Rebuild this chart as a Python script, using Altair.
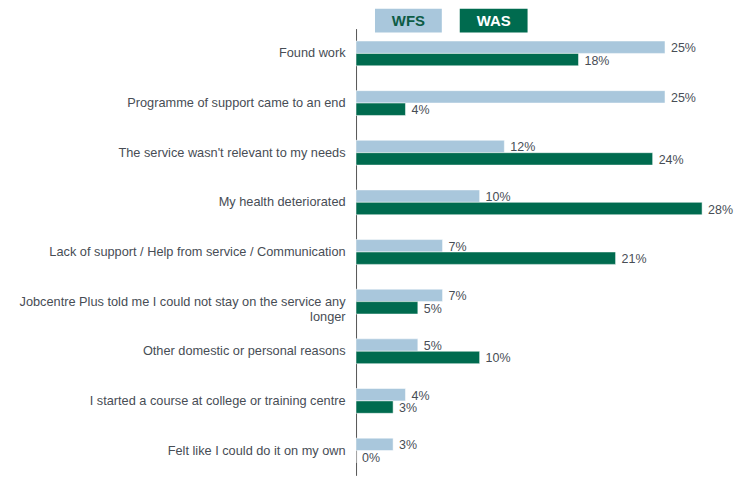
import altair as alt
import pandas as pd

CATEGORIES = [
    "Found work",
    "Programme of support came to an end",
    "The service wasn't relevant to my needs",
    "My health deteriorated",
    "Lack of support / Help from service / Communication",
    "Jobcentre Plus told me I could not stay on the service any longer",
    "Other domestic or personal reasons",
    "I started a course at college or training centre",
    "Felt like I could do it on my own",
]
SERIES = ["WFS", "WAS"]
WFS = [25, 25, 12, 10, 7, 7, 5, 4, 3]
WAS = [18, 4, 24, 28, 21, 5, 10, 3, 0]
COLORS = ["#a9c7dc", "#006b4f"]

rows = []
for i, c in enumerate(CATEGORIES):
    rows.append({"category": c, "series": "WFS", "value": WFS[i]})
    rows.append({"category": c, "series": "WAS", "value": WAS[i]})
df = pd.DataFrame(rows)
df["label"] = df["value"].astype(str) + "%"

FONT = "Liberation Sans"
GREY = "#474d55"

y_enc = alt.Y(
    "category:N",
    sort=CATEGORIES,
    scale=alt.Scale(paddingInner=0.5, paddingOuter=0.25),
    axis=alt.Axis(
        title=None,
        ticks=False,
        domain=True,
        domainColor="#555555",
        domainWidth=1,
        labelFont=FONT,
        labelFontSize=12.8,
        labelColor=GREY,
        labelPadding=11,
        labelLimit=400,
        labelLineHeight=15,
        labelExpr="indexof(datum.label, 'Jobcentre') == 0 ? ['Jobcentre Plus told me I could not stay on the service any', 'longer'] : datum.label",
    ),
)
yoff = alt.YOffset("series:N", sort=SERIES, scale=alt.Scale(paddingInner=0, paddingOuter=0))
x_enc = alt.X("value:Q", scale=alt.Scale(domain=[0, 28], nice=False), axis=None)

base = alt.Chart(df)

bars = base.mark_bar(stroke="white", strokeWidth=0.5).encode(
    y=y_enc,
    yOffset=yoff,
    x=x_enc,
    color=alt.Color("series:N", sort=SERIES, scale=alt.Scale(domain=SERIES, range=COLORS), legend=None),
)

labels = base.mark_text(align="left", baseline="middle", dx=6, dy=1, font=FONT, fontSize=12.5, color=GREY).encode(
    y=alt.Y("category:N", sort=CATEGORIES),
    yOffset=yoff,
    x=x_enc,
    text="label:N",
)

leg_df = alt.Data(values=[{"k": 1}])
leg_wfs_box = alt.Chart(leg_df).mark_rect(color=COLORS[0]).encode(
    x=alt.value(19), x2=alt.value(86), y=alt.value(-20), y2=alt.value(4)
)
leg_was_box = alt.Chart(leg_df).mark_rect(color=COLORS[1]).encode(
    x=alt.value(104), x2=alt.value(172), y=alt.value(-20), y2=alt.value(4)
)
leg_wfs_txt = alt.Chart(leg_df).mark_text(
    font=FONT, fontSize=15, fontWeight="bold", color="#0d5c45", align="center", baseline="middle"
).encode(x=alt.value(52.5), y=alt.value(-7.5), text=alt.value("WFS"))
leg_was_txt = alt.Chart(leg_df).mark_text(
    font=FONT, fontSize=15, fontWeight="bold", color="white", align="center", baseline="middle"
).encode(x=alt.value(138), y=alt.value(-7.5), text=alt.value("WAS"))

chart = (
    alt.layer(bars, labels, leg_wfs_box, leg_was_box, leg_wfs_txt, leg_was_txt)
    .properties(
        width=347,
        height=448,
        background="white",
        padding={"top": 0, "left": 10, "right": 0, "bottom": 2},
    )
    .configure_view(stroke=None)
)

chart.save("out.html", embed_options={"renderer": "svg", "actions": False})
